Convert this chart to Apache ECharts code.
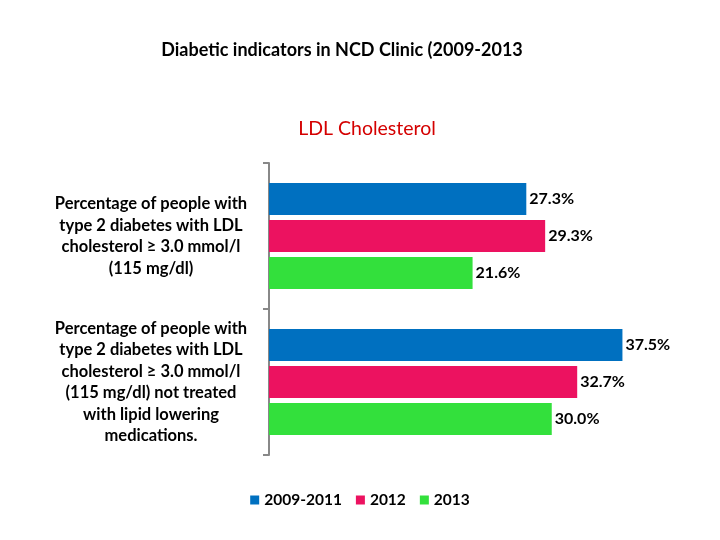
<!DOCTYPE html>
<html>
<head>
<meta charset="utf-8">
<script src="https://cdn.jsdelivr.net/npm/echarts@6/dist/echarts.min.js"></script>
<style>
  html, body { margin: 0; padding: 0; background: #fff; }
  #main { width: 720px; height: 540px; }
</style>
</head>
<body>
<div id="main"></div>
<script>
// data
var categories = [
    'Percentage of people with\ntype 2 diabetes with LDL\ncholesterol \u2265 3.0 mmol/l\n(115 mg/dl)',
    'Percentage of people with\ntype 2 diabetes with LDL\ncholesterol \u2265 3.0 mmol/l\n(115 mg/dl) not treated\nwith lipid lowering\nmedications.'
];
var seriesNames = ['2009-2011', '2012', '2013'];
var values2009_2011 = [27.3, 37.5];
var values2012 = [29.3, 32.7];
var values2013 = [21.6, 30.0];
var colors = ['#0070C0', '#EC1260', '#33E03C'];

window.onload = function () {
    var dom = document.getElementById('main');
    var myChart = echarts.init(dom);
    var font = 'Lato, "Open Sans", sans-serif';

    function makeSeries(name, data) {
        return {
            name: name,
            type: 'bar',
            data: data,
            barWidth: 32,
            barGap: '16%',
            label: {
                show: true,
                position: 'right',
                distance: 3,
                color: '#000',
                fontWeight: 'bold',
                fontSize: 16,
                fontFamily: font,
                formatter: function (p) { return p.value.toFixed(1) + '%'; }
            }
        };
    }

    var option = {
        color: colors,
        animation: false,
        title: [
            {
                text: 'Diabetic indicators in NCD Clinic (2009-2013',
                left: 337,
                top: 36,
                textAlign: 'center',
                textStyle: { fontSize: 18, fontWeight: 'bold', color: '#000', fontFamily: font }
            },
            {
                text: 'LDL Cholesterol',
                left: 362,
                top: 114,
                textAlign: 'center',
                textStyle: { fontSize: 19.5, fontWeight: 'normal', color: '#D40000', fontFamily: font }
            }
        ],
        legend: {
            data: seriesNames,
            bottom: 27,
            left: 'center',
            itemWidth: 9,
            itemHeight: 9,
            itemGap: 14,
            icon: 'rect',
            textStyle: { fontSize: 15.5, fontWeight: 'bold', color: '#000', fontFamily: font }
        },
        grid: {
            left: 269,
            top: 163,
            width: 377,
            bottom: 85,
            containLabel: false
        },
        xAxis: {
            type: 'value',
            min: 0,
            max: 40,
            show: false
        },
        yAxis: {
            type: 'category',
            inverse: true,
            data: categories,
            axisLine: { show: true, lineStyle: { color: '#888', width: 2 } },
            axisTick: { show: true, length: 6, lineStyle: { color: '#888', width: 2 } },
            axisLabel: {
                align: 'center',
                margin: 118,
                color: '#000',
                fontSize: 16.5,
                fontWeight: 'bold',
                lineHeight: 21.5,
                fontFamily: font
            }
        },
        series: [
            makeSeries(seriesNames[0], values2009_2011),
            makeSeries(seriesNames[1], values2012),
            makeSeries(seriesNames[2], values2013)
        ]
    };
    myChart.setOption(option, true);
};
</script>
</body>
</html>
